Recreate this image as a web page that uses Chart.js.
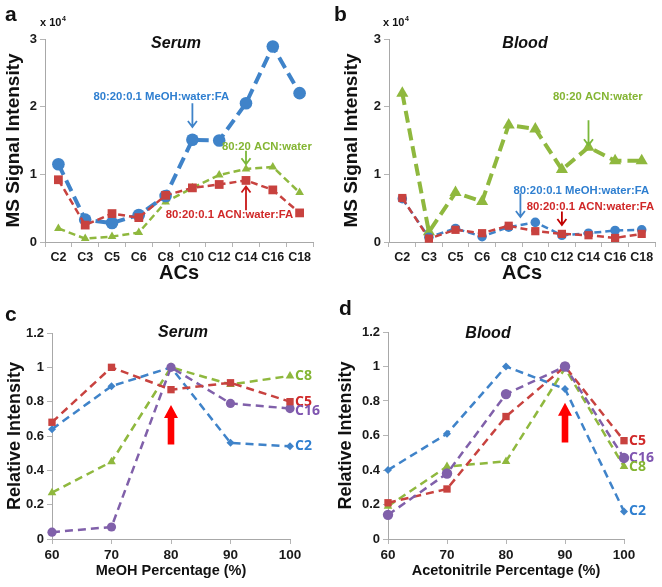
<!DOCTYPE html>
<html>
<head>
<meta charset="utf-8">
<script src="https://cdn.jsdelivr.net/npm/chart.js@4/dist/chart.umd.min.js"></script>
<style>
  body { margin: 0; background: #fff; }
  #wrap { position: relative; width: 662px; height: 587px; }
  .panel { position: absolute; }
</style>
</head>
<body>
<div id="wrap">
  <canvas id="pa" class="panel" width="331" height="294" style="left:0;top:0"></canvas>
  <canvas id="pb" class="panel" width="331" height="294" style="left:331px;top:0"></canvas>
  <canvas id="pc" class="panel" width="331" height="293" style="left:0;top:294px"></canvas>
  <canvas id="pd" class="panel" width="331" height="293" style="left:331px;top:294px"></canvas>
</div>
<script>
// categories (acylcarnitines)
var acs = ["C2", "C3", "C5", "C6", "C8", "C10", "C12", "C14", "C16", "C18"];

// a: serum, MS signal intensity (x 10^4)
var serumMeOHFA = [1.15, 0.33, 0.28, 0.40, 0.68, 1.51, 1.50, 2.05, 2.89, 2.20];
var serumACNFA  = [0.92, 0.25, 0.42, 0.36, 0.69, 0.80, 0.85, 0.91, 0.77, 0.43];
var serumACN    = [0.20, 0.05, 0.08, 0.14, 0.59, 0.80, 0.99, 1.08, 1.11, 0.73];

// b: blood, MS signal intensity (x 10^4)
var bloodMeOHFA = [0.64, 0.07, 0.20, 0.08, 0.22, 0.29, 0.10, 0.13, 0.17, 0.18];
var bloodACNFA  = [0.65, 0.05, 0.18, 0.13, 0.24, 0.16, 0.12, 0.10, 0.06, 0.12];
var bloodACN    = [2.20, 0.15, 0.73, 0.60, 1.73, 1.67, 1.07, 1.40, 1.20, 1.20];

// c: serum, relative intensity vs MeOH %
var pct = [60, 70, 80, 90, 100];
var serumC2  = [0.64, 0.89, 1.00, 0.56, 0.54];
var serumC5  = [0.68, 1.00, 0.87, 0.91, 0.80];
var serumC8  = [0.27, 0.45, 1.00, 0.90, 0.95];
var serumC16 = [0.04, 0.07, 1.00, 0.79, 0.76];

// d: blood, relative intensity vs acetonitrile %
var bloodC2  = [0.40, 0.61, 1.00, 0.87, 0.16];
var bloodC5  = [0.21, 0.29, 0.71, 1.00, 0.57];
var bloodC8  = [0.19, 0.42, 0.45, 0.99, 0.42];
var bloodC16 = [0.14, 0.38, 0.84, 1.00, 0.47];

var yTicksAB = [0, 1, 2, 3];
var yTicksCD = [0, 0.2, 0.4, 0.6, 0.8, 1, 1.2];

var BLUE = "#3f83c9", RED = "#c8423f", GREEN = "#8fb83e", PURPLE = "#8060aa";
var FONT = "'Liberation Sans', Arial, sans-serif";

function xy(xs, ys) {
    return ys.map(function (v, i) { return { x: xs[i], y: v }; });
}

// draws panel letters, titles, annotation text and arrows
var decor = {
    id: "decor",
    afterDraw: function (chart) {
        var o = chart.options.plugins.decor;
        if (!o) return;
        var ctx = chart.ctx;
        var sx = chart.scales.x, sy = chart.scales.y;
        ctx.save();
        ctx.textBaseline = "middle";
        ctx.fillStyle = "#111";
        ctx.font = "bold 21px " + FONT;
        ctx.textAlign = "left";
        ctx.fillText(o.letter, o.letterX, o.letterY);
        ctx.textAlign = "center";
        ctx.font = "italic bold 16px " + FONT;
        ctx.fillText(o.title, o.titleX, o.titleY);
        if (o.exp) {
            ctx.textAlign = "left";
            ctx.font = "bold 11px " + FONT;
            ctx.fillText("x 10", o.expX, 23);
            ctx.font = "bold 7px " + FONT;
            ctx.fillText("4", o.expX + 22, 19);
        }
        (o.notes || []).forEach(function (n) {
            ctx.textAlign = "center";
            ctx.font = "bold 11.3px " + FONT;
            ctx.fillStyle = n.color;
            ctx.fillText(n.text, sx.getPixelForValue(n.x), sy.getPixelForValue(n.y));
        });
        (o.arrows || []).forEach(function (a) {
            var x = sx.getPixelForValue(a.x);
            var y1 = sy.getPixelForValue(a.from), y2 = sy.getPixelForValue(a.to);
            var dir = y2 > y1 ? 1 : -1;
            ctx.strokeStyle = a.color;
            ctx.fillStyle = a.color;
            if (a.block) {
                ctx.beginPath();
                ctx.moveTo(x - 3.3, y1);
                ctx.lineTo(x - 3.3, y2 - dir * 13);
                ctx.lineTo(x - 7, y2 - dir * 13);
                ctx.lineTo(x, y2);
                ctx.lineTo(x + 7, y2 - dir * 13);
                ctx.lineTo(x + 3.3, y2 - dir * 13);
                ctx.lineTo(x + 3.3, y1);
                ctx.closePath();
                ctx.fill();
            } else {
                ctx.lineWidth = 1.8;
                ctx.beginPath();
                ctx.moveTo(x, y1);
                ctx.lineTo(x, y2);
                ctx.moveTo(x - 4.5, y2 - dir * 6);
                ctx.lineTo(x, y2);
                ctx.lineTo(x + 4.5, y2 - dir * 6);
                ctx.stroke();
            }
        });
        (o.ends || []).forEach(function (e) {
            var pts = chart.getDatasetMeta(e.ds).data;
            var p = pts[pts.length - 1];
            ctx.textAlign = "left";
            ctx.font = "bold 14px 'Open Sans', sans-serif";
            ctx.fillStyle = e.color;
            ctx.fillText(e.text, p.x + 5, p.y + (e.dy || 0));
        });
        ctx.restore();
    }
};

function axisX(cfg) {
    return Object.assign({
        grid: { drawOnChartArea: false, tickLength: 5, color: "#b5b5b5" },
        border: { color: "#a8a8a8" },
        ticks: { color: "#1a1a1a", font: { family: FONT, weight: "bold", size: 13 }, padding: 3, maxRotation: 0, minRotation: 0, autoSkip: false }
    }, cfg);
}

function axisY(cfg) {
    return Object.assign({
        grid: { drawOnChartArea: false, tickLength: 5, color: "#b5b5b5" },
        border: { color: "#a8a8a8" }
    }, cfg);
}

function topPanel(id, sets, padRight, yWidth, yTitlePad, deco) {
    return new Chart(document.getElementById(id), {
        type: "line",
        data: { labels: acs, datasets: sets },
        plugins: [decor],
        options: {
            responsive: false,
            animation: false,
            layout: { padding: { top: 39, right: padRight, left: 0, bottom: 0 } },
            plugins: { legend: { display: false }, tooltip: { enabled: false }, decor: deco },
            scales: {
                x: axisX({
                    type: "category",
                    offset: true,
                    grid: { offset: true, drawOnChartArea: false, tickLength: 5, color: "#b5b5b5" },
                    ticks: { color: "#1a1a1a", font: { family: FONT, weight: "bold", size: 12.5 }, padding: 3, maxRotation: 0, minRotation: 0, autoSkip: false },
                    title: { display: true, text: "ACs", color: "#111", font: { family: FONT, weight: "bold", size: 20 }, padding: { top: 0, bottom: 9 } },
                    afterFit: function (s) { s.height = 52; }
                }),
                y: axisY({
                    min: 0, max: 3,
                    afterBuildTicks: function (s) { s.ticks = yTicksAB.map(function (v) { return { value: v }; }); },
                    ticks: { color: "#1a1a1a", font: { family: FONT, weight: "bold", size: 13 }, padding: 3 },
                    title: { display: true, text: "MS Signal Intensity", color: "#111", font: { family: FONT, weight: "bold", size: 19 }, padding: { top: yTitlePad, bottom: 0 } },
                    afterFit: function (s) { s.width = yWidth; }
                })
            }
        }
    });
}

function bottomPanel(id, sets, padTop, padRight, yWidth, xTitle, deco) {
    return new Chart(document.getElementById(id), {
        type: "line",
        data: { datasets: sets },
        plugins: [decor],
        options: {
            responsive: false,
            animation: false,
            layout: { padding: { top: padTop, right: padRight, left: 0, bottom: 0 } },
            plugins: { legend: { display: false }, tooltip: { enabled: false }, decor: deco },
            scales: {
                x: axisX({
                    type: "linear",
                    min: 60, max: 100,
                    afterBuildTicks: function (s) { s.ticks = pct.map(function (v) { return { value: v }; }); },
                    ticks: { color: "#1a1a1a", font: { family: FONT, weight: "bold", size: 13.5 }, padding: 3, maxRotation: 0, minRotation: 0 },
                    title: { display: true, text: xTitle, color: "#111", font: { family: FONT, weight: "bold", size: 14.5 }, padding: { top: 0, bottom: 7 } },
                    afterFit: function (s) { s.height = 48; }
                }),
                y: axisY({
                    min: 0, max: 1.2,
                    afterBuildTicks: function (s) { s.ticks = yTicksCD.map(function (v) { return { value: v }; }); },
                    ticks: { color: "#1a1a1a", font: { family: FONT, weight: "bold", size: 13 }, padding: 3, callback: function (v) { return String(v); } },
                    title: { display: true, text: "Relative Intensity", color: "#111", font: { family: FONT, weight: "bold", size: 18 }, padding: { top: 4, bottom: 0 } },
                    afterFit: function (s) { s.width = yWidth; }
                })
            }
        }
    });
}

function ds(data, color, style, radius, width, dash) {
    return {
        data: data,
        borderColor: color,
        backgroundColor: color,
        pointBackgroundColor: color,
        pointBorderColor: color,
        pointStyle: style,
        pointRadius: radius,
        pointBorderWidth: 0,
        borderWidth: width,
        borderDash: dash,
        tension: 0,
        clip: false
    };
}

var thin = [7, 4], thick = [12, 6], mid = [8, 5];

topPanel("pa", [
    ds(serumACNFA, RED, "rect", 6.2, 2.5, thin),
    ds(serumMeOHFA, BLUE, "circle", 6.3, 4, thick),
    ds(serumACN, GREEN, "triangle", 5, 2.5, thin)
], 18, 45, 2, {
    letter: "a", letterX: 5, letterY: 15,
    title: "Serum", titleX: 176, titleY: 44,
    exp: true, expX: 40,
    notes: [
        { text: "80:20:0.1 MeOH:water:FA", color: "#2f7fd0", x: 3.84, y: 2.14 },
        { text: "80:20 ACN:water", color: "#84b533", x: 7.78, y: 1.41 },
        { text: "80:20:0.1 ACN:water:FA", color: "#d02828", x: 6.38, y: 0.40 }
    ],
    arrows: [
        { x: 5, from: 2.05, to: 1.70, color: "#3f83c9" },
        { x: 7, from: 1.35, to: 1.15, color: "#7ab83a" },
        { x: 7, from: 0.47, to: 0.82, color: "#c81818" }
    ]
});

topPanel("pb", [
    ds(bloodACNFA, RED, "rect", 5.8, 2.5, thin),
    ds(bloodMeOHFA, BLUE, "circle", 4.8, 2.5, thin),
    ds(bloodACN, GREEN, "triangle", 7, 4, thick)
], 5, 58, 9, {
    letter: "b", letterX: 3, letterY: 15,
    title: "Blood", titleX: 194, titleY: 44,
    exp: true, expX: 52,
    notes: [
        { text: "80:20 ACN:water", color: "#84b533", x: 7.35, y: 2.14 },
        { text: "80:20:0.1 MeOH:water:FA", color: "#2f7fd0", x: 6.73, y: 0.76 },
        { text: "80:20:0.1 ACN:water:FA", color: "#d02828", x: 7.07, y: 0.52 }
    ],
    arrows: [
        { x: 7, from: 1.80, to: 1.43, color: "#7ab83a" },
        { x: 4.44, from: 0.72, to: 0.37, color: "#3f83c9" },
        { x: 6, from: 0.45, to: 0.25, color: "#c00000" }
    ]
});

bottomPanel("pc", [
    ds(xy(pct, serumC5), RED, "rect", 5.2, 2.5, mid),
    ds(xy(pct, serumC16), PURPLE, "circle", 4.6, 2.5, mid),
    ds(xy(pct, serumC2), BLUE, "rectRot", 4, 2.5, mid),
    ds(xy(pct, serumC8), GREEN, "triangle", 5, 2.5, mid)
], 39, 41, 52, "MeOH Percentage (%)", {
    letter: "c", letterX: 5, letterY: 21,
    title: "Serum", titleX: 183, titleY: 39,
    notes: [],
    arrows: [{ x: 80, from: 0.55, to: 0.78, color: "#ff0000", block: true }],
    ends: [
        { ds: 3, text: "C8", color: "#84b533" },
        { ds: 0, text: "C5", color: "#d02828" },
        { ds: 1, text: "C16", color: "#7f55b0", dy: 2 },
        { ds: 2, text: "C2", color: "#2f7fd0" }
    ]
});

bottomPanel("pd", [
    ds(xy(pct, bloodC16), PURPLE, "circle", 5.2, 2.5, mid),
    ds(xy(pct, bloodC5), RED, "rect", 5.2, 2.5, mid),
    ds(xy(pct, bloodC8), GREEN, "triangle", 5, 2.5, mid),
    ds(xy(pct, bloodC2), BLUE, "rectRot", 4, 2.5, mid)
], 38, 38, 57, "Acetonitrile Percentage (%)", {
    letter: "d", letterX: 8, letterY: 15,
    title: "Blood", titleX: 157, titleY: 40,
    notes: [],
    arrows: [{ x: 90, from: 0.56, to: 0.79, color: "#ff0000", block: true }],
    ends: [
        { ds: 1, text: "C5", color: "#d02828" },
        { ds: 0, text: "C16", color: "#7f55b0" },
        { ds: 2, text: "C8", color: "#84b533" },
        { ds: 3, text: "C2", color: "#2f7fd0" }
    ]
});
</script>
</body>
</html>
